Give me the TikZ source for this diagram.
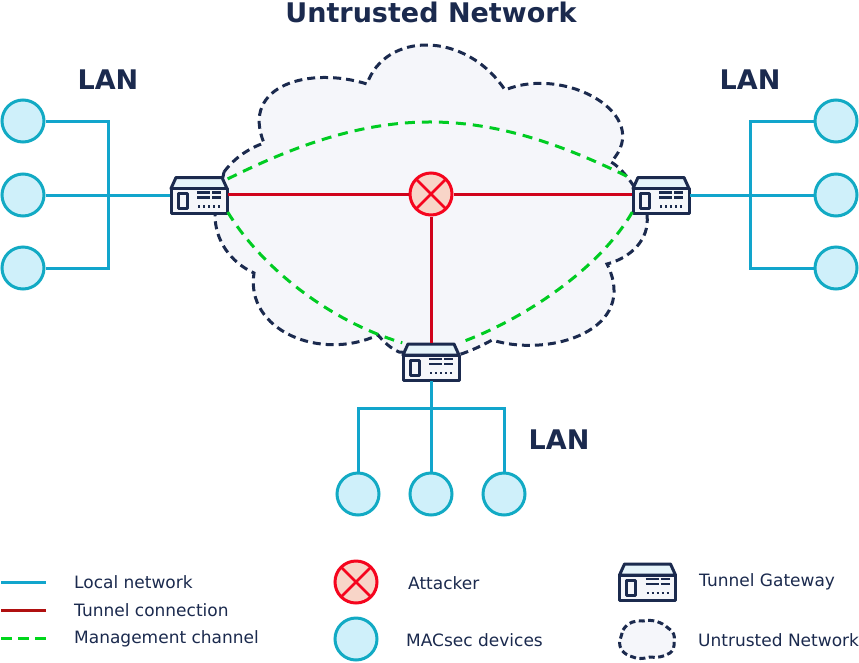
\documentclass[tikz,border=0pt]{standalone}
\usepackage{fontspec}
\setmainfont{DejaVu Sans}
\definecolor{NetNavy}{HTML}{1B2A4E}
\definecolor{NetBlue}{HTML}{12A5CC}
\definecolor{NetTeal}{HTML}{12AAC4}
\definecolor{NetIce}{HTML}{CFF0FA}
\definecolor{NetRed}{HTML}{D0021B}
\definecolor{NetDark}{HTML}{B01010}
\definecolor{NetAlarm}{HTML}{F5051E}
\definecolor{NetPeach}{HTML}{F8D5C8}
\definecolor{NetGreen}{HTML}{00CC22}
\definecolor{NetCloud}{HTML}{F5F6FA}
\tikzset{
  device/.style={circle,draw=NetTeal,fill=NetIce,line width=3pt,minimum size=42pt,inner sep=0pt},
  attacker/.style={circle,draw=NetAlarm,fill=NetPeach,line width=3pt,minimum size=42pt,inner sep=0pt,
    path picture={\draw[NetAlarm,line width=2.8pt] (path picture bounding box.north west) -- (path picture bounding box.south east)
      (path picture bounding box.north east) -- (path picture bounding box.south west);}},
  gwbox/.style={rectangle,minimum width=57pt,minimum height=38pt,inner sep=0pt},
  lanlink/.style={NetBlue,line width=3pt},
  tunnel/.style={NetRed,line width=3pt},
  mgmt/.style={NetGreen,line width=3pt,dash pattern=on 10pt off 7pt},
  cloudline/.style={NetNavy,fill=NetCloud,line width=3pt,dash pattern=on 8pt off 5pt},
  lantext/.style={font=\bfseries\fontsize{27}{30}\selectfont,text=NetNavy,inner sep=0pt},
  legtext/.style={font=\fontsize{17}{20}\selectfont,text=NetNavy,anchor=west,inner sep=0pt},
}
\newcommand{\gateway}[2]{%
  \node[gwbox] (#1) at (#2) {};
  \begin{scope}[shift={(#1.center)},NetNavy,line width=3pt,line join=round]
    \draw[fill=NetCloud!60!NetIce] (-28,-7) -- (-23,-18) -- (23,-18) -- (28,-7) -- cycle;
    \draw[fill=NetCloud] (-28,-7) rectangle (28,18);
    \draw (-21,-2) rectangle (-12,13);
    \foreach \yy in {-3,2} {
      \draw[line width=2.6pt] (-2,\yy) -- (11,\yy);
      \draw[line width=2.6pt] (13,\yy) -- (22,\yy);
    }
    \draw[line width=2.6pt,dash pattern=on 2pt off 3pt] (-1,11) -- (22,11);
  \end{scope}
}
\begin{document}
\begin{tikzpicture}[x=1pt,y=-1pt]
\path[use as bounding box] (0,0) rectangle (859,662);
\fill[white] (0,0) rectangle (859,662);
% cloud
\draw[cloudline] (224,172) .. controls (235,157) and (250,148) .. (264,143)
  .. controls (240,85) and (310,66) .. (367,84)
  .. controls (385,32) and (465,30) .. (505,90)
  .. controls (565,65) and (655,115) .. (611,162)
  .. controls (622,168) and (640,190) .. (647,215)
  .. controls (650,240) and (630,258) .. (607,264)
  .. controls (640,330) and (550,358) .. (492,340)
  .. controls (478,348) and (465,353) .. (455,356)
  -- (399,352)
  .. controls (390,348) and (384,342) .. (378,335)
  .. controls (320,362) and (245,330) .. (254,273)
  .. controls (230,262) and (215,240) .. (215,215)
  -- cycle;
\node[font=\bfseries\fontsize{27}{30}\selectfont,text=NetNavy,inner sep=0pt] (title) at (431,12) {Untrusted Network};
% gateways
\gateway{gwL}{199,195.5}
\gateway{gwR}{661,195.5}
\gateway{gwB}{431,362}
\node[attacker] (att) at (431,194) {};
% left LAN
\node[device] (devLa) at (23,121) {};
\node[device] (devLb) at (23,195) {};
\node[device] (devLc) at (23,268) {};
\coordinate (busLa) at (108,121);
\coordinate (busLc) at (108,268);
\draw[lanlink] (devLa) -- (busLa) -- (busLc) -- (devLc);
\draw[lanlink] (devLb) -- (devLb -| gwL.west);
\node[lantext] (lanL) at (108,80) {LAN};
% right LAN
\node[device] (devRa) at (836,121) {};
\node[device] (devRb) at (836,195) {};
\node[device] (devRc) at (836,268) {};
\coordinate (busRa) at (750,121);
\coordinate (busRc) at (750,268);
\draw[lanlink] (devRa) -- (busRa) -- (busRc) -- (devRc);
\draw[lanlink] (devRb) -- (devRb -| gwR.east);
\node[lantext] (lanR) at (750,80) {LAN};
% bottom LAN
\node[device] (devBa) at (358,494) {};
\node[device] (devBb) at (431,494) {};
\node[device] (devBc) at (504,494) {};
\coordinate (busBa) at (358,408);
\coordinate (busBc) at (504,408);
\draw[lanlink] (devBa) -- (busBa) -- (busBc) -- (devBc);
\draw[lanlink] (devBb) -- (gwB);
\node[lantext] (lanB) at (559,440) {LAN};
% tunnels
\draw[tunnel] (gwL.east |- att) -- (att);
\draw[tunnel] (att) -- (gwR.west |- att);
\draw[tunnel] (att) -- (gwB);
% management
\draw[mgmt] (gwL.30) .. controls (380,103) and (480,103) .. (gwR.150);
\draw[mgmt] (gwL.-30) .. controls (258,262) and (323,319) .. (gwB.north west);
\draw[mgmt] (gwR.-150) .. controls (600,268) and (525,319) .. (gwB.north east);
% legend
\coordinate (legAa) at (1,582);
\coordinate (legAb) at (46,582);
\coordinate (legBa) at (1,610);
\coordinate (legBb) at (46,610);
\coordinate (legCa) at (1,638);
\coordinate (legCb) at (46,638);
\draw[lanlink] (legAa) -- (legAb);
\draw[NetDark,line width=3pt] (legBa) -- (legBb);
\draw[mgmt,NetGreen!80!green,dash pattern=on 11pt off 6pt] (legCa) -- (legCb);
\node[legtext] (txtLocal) at (74,582) {Local network};
\node[legtext] (txtTunnel) at (74,610) {Tunnel connection};
\node[legtext] (txtMgmt) at (74,639) {Management channel};
\node[attacker] (legAtt) at (356,582) {};
\node[device] (legDev) at (356,639) {};
\node[legtext] (txtAtt) at (408,583) {Attacker};
\node[legtext] (txtDev) at (406,640) {MACsec devices};
\gateway{legGw}{647.5,582}
\draw[NetNavy,fill=NetCloud,line width=3pt,dash pattern=on 6pt off 3.5pt] (623,630)
  .. controls (628,622) and (636,620) .. (643,621)
  .. controls (652,619) and (662,622) .. (668,628)
  .. controls (674,632) and (675,636) .. (674,640)
  .. controls (675,646) and (673,651) .. (670,653)
  .. controls (664,657) and (656,658) .. (650,657)
  .. controls (643,659) and (637,659) .. (633,657)
  .. controls (624,655) and (618,648) .. (620,640)
  -- cycle;
\node[legtext] (txtGw) at (699,582) {Tunnel Gateway};
\node[legtext] (txtCloud) at (698,640) {Untrusted Network};
\end{tikzpicture}
\end{document}
